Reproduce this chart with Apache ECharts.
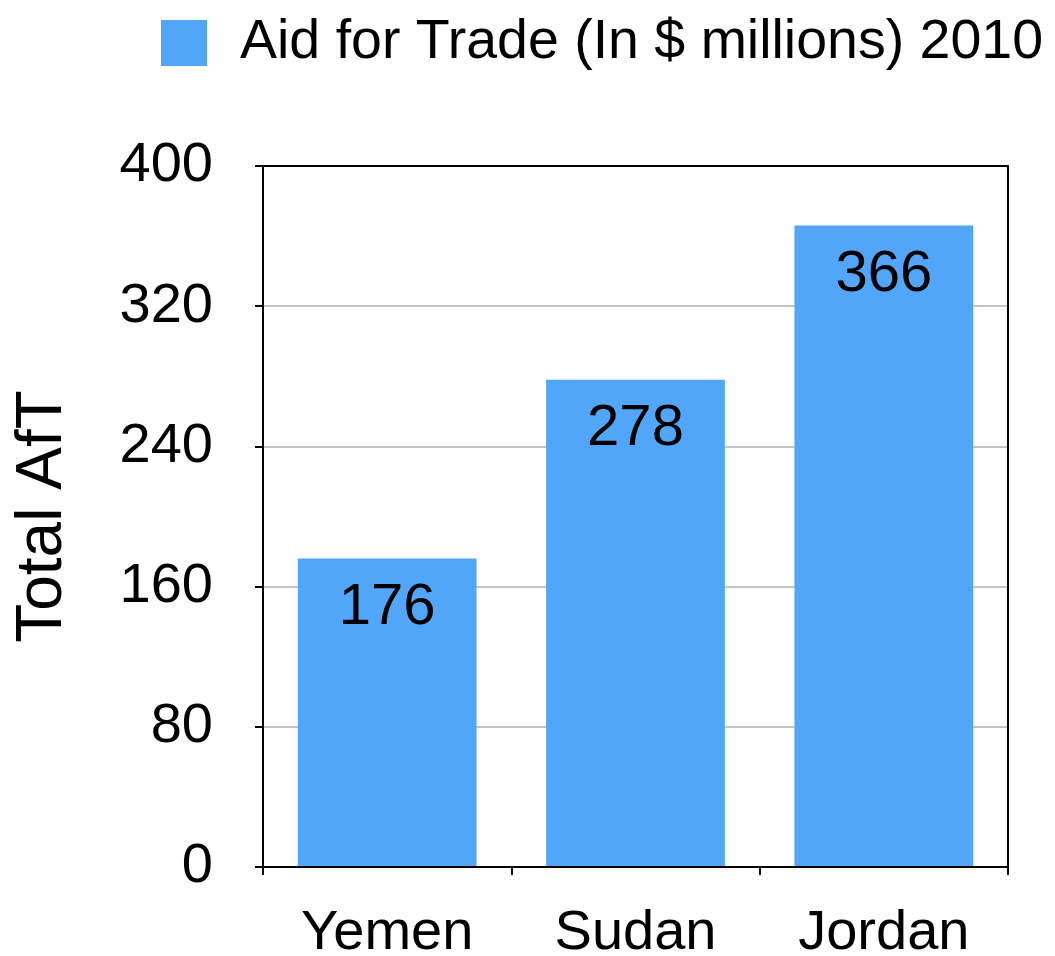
<!DOCTYPE html>
<html><head><meta charset="utf-8">
<script src="https://cdn.jsdelivr.net/npm/echarts@6/dist/echarts.min.js"></script>
<style>html,body{margin:0;padding:0;background:#fff}#c{width:1055px;height:956px}</style>
</head><body><div id="c"></div>
<script>
const categories = ['Yemen', 'Sudan', 'Jordan'];
const values = [176, 278, 366];
const seriesName = 'Aid for Trade (In $ millions) 2010';
const yAxisName = 'Total AfT';
const FONT = '"Liberation Sans", Arial, Helvetica, sans-serif';
const chart = echarts.init(document.getElementById('c'));
chart.setOption({
  animation: false,
  textStyle: {fontFamily: FONT},
  legend: {
    data: [seriesName], left: 156, top: 10, itemWidth: 46, itemHeight: 46, itemGap: 20,
    icon: 'rect',
    textStyle: {fontSize: 55.5, color: '#000', fontFamily: FONT, padding: [0,0,0,28]}
  },
  grid: {left: 263, right: 47, top: 166, bottom: 89, outerBoundsMode: 'none', containLabel: false},
  xAxis: [{
    type: 'category', data: categories, z: 3,
    axisLine: {lineStyle: {color: '#000', width: 2}},
    axisTick: {show: true, length: 8, inside: false, lineStyle: {color: '#000', width: 2}},
    axisLabel: {fontSize: 56, color: '#000', margin: 39, fontFamily: FONT}
  }, {
    type: 'category', data: categories, position: 'top', z: 5,
    axisLine: {show: true, onZero: false, lineStyle: {color: '#000', width: 2}},
    axisTick: {show: false}, axisLabel: {show: false}
  }],
  yAxis: [{
    type: 'value', min: 0, max: 400, interval: 80, z: 1,
    name: yAxisName, nameLocation: 'middle', nameGap: 188, nameRotate: 90,
    nameTextStyle: {fontSize: 64, color: '#000', fontFamily: FONT},
    axisLine: {show: true, lineStyle: {color: '#000', width: 2}},
    axisTick: {show: true, length: 8, lineStyle: {color: '#000', width: 2}},
    axisLabel: {fontSize: 56, color: '#000', margin: 50, fontFamily: FONT},
    splitLine: {show: true, showMaxLine: false, showMinLine: false, lineStyle: {color: '#c4c4c4', width: 2}}
  }, {
    type: 'value', min: 0, max: 400, interval: 80, position: 'right', z: 5,
    axisLine: {show: true, onZero: false, lineStyle: {color: '#000', width: 2}},
    axisTick: {show: false}, axisLabel: {show: false}, splitLine: {show: false}
  }],
  series: [{
    name: seriesName, type: 'bar', data: values, barWidth: '72%',
    itemStyle: {color: '#52a6f9'},
    label: {show: true, position: 'insideTop', distance: 20, fontSize: 58, color: '#000', fontFamily: FONT}
  }]
});
</script></body></html>
